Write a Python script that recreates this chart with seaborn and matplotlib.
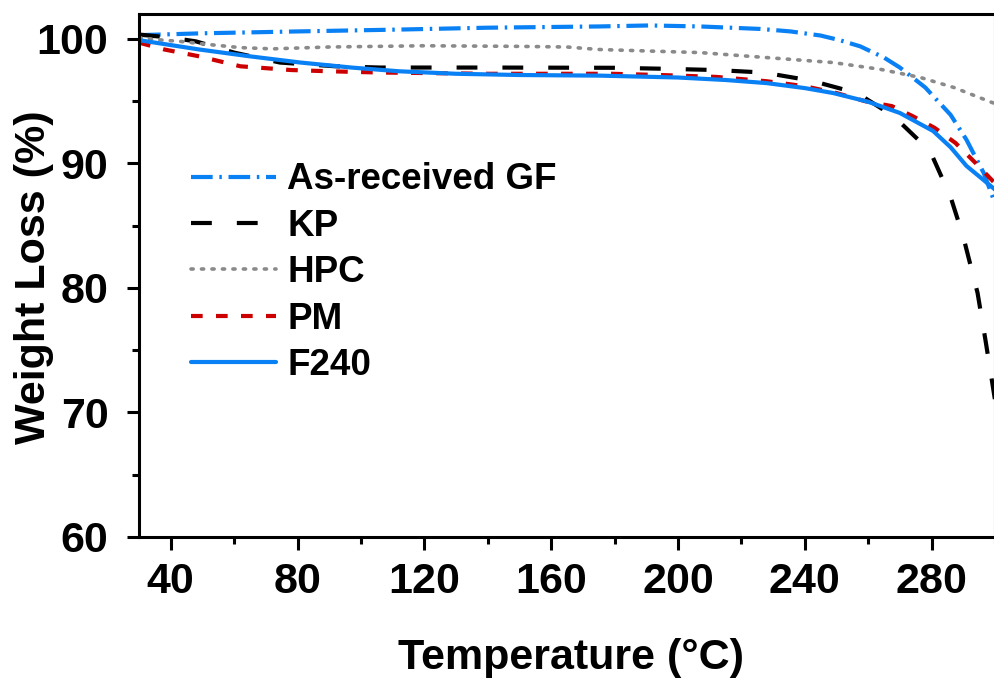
import pandas as pd
import seaborn as sns
import matplotlib.pyplot as plt
from matplotlib.ticker import MultipleLocator

# TGA curves
gf_t = [30, 50, 80, 112, 140, 175, 191, 207, 226, 235.5, 245, 251, 257.5, 265, 270, 278, 286, 291, 296.5, 300]
gf_w = [100.3, 100.45, 100.6, 100.75, 100.9, 101.0, 101.08, 101.0, 100.8, 100.6, 100.27, 99.9, 99.4, 98.5, 97.7, 96.1, 93.9, 91.9, 89.2, 86.8]

kp_t = [30, 40, 48, 60, 74.5, 92, 106, 140, 180, 196, 212, 227, 242, 256.5, 268, 279.5, 286, 290, 294.5, 297, 300]
kp_w = [100.35, 100.1, 99.8, 98.9, 98.1, 97.8, 97.7, 97.7, 97.68, 97.6, 97.5, 97.3, 96.65, 95.65, 93.8, 91.0, 87.3, 84.1, 79.6, 75.8, 71.0]

hpc_t = [30, 35, 43, 52, 62, 72, 90, 120, 150, 165, 175, 207, 228, 249, 264, 276.5, 287, 300]
hpc_w = [100.1, 99.95, 99.8, 99.55, 99.3, 99.2, 99.35, 99.45, 99.4, 99.35, 99.15, 98.9, 98.5, 98.1, 97.55, 96.9, 96.1, 94.8]

pm_t = [30, 38, 49, 62, 78, 90, 106, 140, 179, 194.5, 212, 228, 240, 250, 259, 267.5, 274, 281, 287.5, 294, 300]
pm_w = [99.7, 99.15, 98.6, 97.8, 97.5, 97.4, 97.3, 97.2, 97.2, 97.1, 96.95, 96.6, 96.2, 95.65, 95.0, 94.6, 93.8, 92.85, 91.65, 90.0, 88.4]

f240_t = [30, 49, 65, 81, 97, 112, 130, 150, 175.5, 200, 215, 228, 240, 249, 260, 270, 280.5, 286, 291, 296, 300]
f240_w = [99.9, 99.15, 98.6, 98.1, 97.7, 97.4, 97.2, 97.1, 97.05, 96.9, 96.7, 96.45, 96.05, 95.65, 94.95, 94.05, 92.6, 91.3, 89.8, 88.75, 87.9]

labels = ['As-received GF', 'KP', 'HPC', 'PM', 'F240']

sns.set_style("ticks")
plt.rcParams['font.family'] = ['Liberation Sans', 'DejaVu Sans']
plt.rcParams['font.weight'] = 'bold'
plt.rcParams['axes.labelweight'] = 'bold'
for key in ['text.color', 'axes.labelcolor', 'xtick.color', 'ytick.color', 'axes.edgecolor']:
    plt.rcParams[key] = 'black'

fig = plt.figure(figsize=(9.95, 6.81), dpi=100)
ax = fig.add_axes([139 / 995, 144 / 681, 856 / 995, 523 / 681])

blue = '#0A80F5'
styles = [
    dict(color=blue, lw=3, linestyle=(0, (5.2, 1.6, 0.6, 1.6))),
    dict(color='black', lw=3, linestyle=(0, (5.0, 6.0))),
    dict(color='#8a8a8a', lw=2.6, linestyle=(0, (0.6, 2.3)), dash_capstyle='round'),
    dict(color='#CC0000', lw=3, linestyle=(0, (2.8, 3.2))),
    dict(color=blue, lw=3, linestyle='-'),
]
series = [(gf_t, gf_w), (kp_t, kp_w), (hpc_t, hpc_w), (pm_t, pm_w), (f240_t, f240_w)]

for (t, w), lab, st in zip(series, labels, styles):
    df = pd.DataFrame({'Temperature': t, 'Weight': w})
    sns.lineplot(data=df, x='Temperature', y='Weight', ax=ax, label=lab, sort=False, **st)

ax.set_xlim(30, 300)
ax.set_ylim(60, 102)
ax.xaxis.set_major_locator(MultipleLocator(40))
ax.xaxis.set_minor_locator(MultipleLocator(20))
ax.yaxis.set_major_locator(MultipleLocator(10))
ax.yaxis.set_minor_locator(MultipleLocator(5))
ax.tick_params(which='major', direction='out', length=9, width=2.2, labelsize=31)
ax.tick_params(axis='x', which='major', pad=9)
ax.tick_params(axis='y', which='major', pad=13)
ax.tick_params(which='minor', direction='out', length=5, width=2.2)
for lab in ax.get_xticklabels() + ax.get_yticklabels():
    lab.set_fontweight('bold')
for sp in ax.spines.values():
    sp.set_linewidth(2.2)

ax.set_xlabel('Temperature (°C)', fontsize=31, fontweight='bold')
ax.set_ylabel('Weight Loss (%)', fontsize=31, fontweight='bold')
ax.xaxis.set_label_coords(0.505, -0.193)
ax.yaxis.set_label_coords(-0.099, 0.497)

ax.legend(loc='upper left', bbox_to_anchor=(173 / 995, 1 - 144 / 681), bbox_transform=fig.transFigure,
          frameon=False, borderpad=0, handlelength=2.3, handletextpad=0.3, labelspacing=0.31,
          prop={'size': 26.5, 'weight': 'bold'})

fig.savefig('out.png', dpi=100)
